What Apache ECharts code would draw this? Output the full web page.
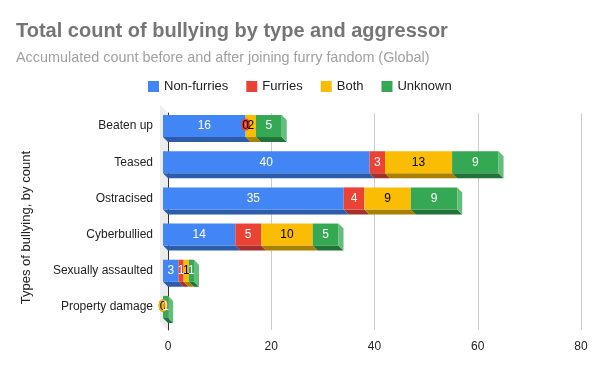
<!DOCTYPE html>
<html><head><meta charset="utf-8">
<script src="https://cdn.jsdelivr.net/npm/echarts@6/dist/echarts.min.js"></script>
<style>html,body{margin:0;padding:0;background:#fff}#c{width:600px;height:371px}</style>
</head><body><div id="c"></div>
<script>
const categories = ['Beaten up','Teased','Ostracised','Cyberbullied','Sexually assaulted','Property damage'];
const seriesNames = ['Non-furries','Furries','Both','Unknown'];
const nonFurries = [16,40,35,14,3,0];
const furries = [0,3,4,5,1,0];
const both = [2,13,9,10,1,0];
const unknown = [5,9,9,5,1,1];
const xTicks = [0,20,40,60,80];

const values = [nonFurries, furries, both, unknown];
const front = ['#4285F4','#EA4335','#FBBC04','#34A853'];
const bottomC = ['#2D5CAB','#A3302A','#A98000','#227339'];
const sideC = ['#7BA9F7','#F07A70','#FCD160','#63BE7C'];
const labelC = ['#fff','#fff','#000','#fff'];
const D = 5;
const FONT = '"Liberation Sans", Arial, sans-serif';

function geom(api){
  const ci = api.value(0), s = api.value(1), e = api.value(2);
  const p0 = api.coord([s, ci]), p1 = api.coord([e, ci]);
  const band = api.size([0,1])[1];
  const h = band*0.61;
  const x0 = p0[0]-D, x1 = p1[0]-D, yt = p0[1]-D-h/2, yb = yt+h;
  return {x0,x1,yt,yb};
}
function shapeRender(si){
  return function(params, api){
    const g = geom(api);
    const last = api.value(4);
    const ch = [];
    if (g.x1 > g.x0) {
      ch.push({type:'polygon', shape:{points:[[g.x0,g.yb],[g.x1,g.yb],[g.x1+D,g.yb+D],[g.x0+D,g.yb+D]]}, style:{fill:bottomC[si]}});
      ch.push({type:'rect', shape:{x:g.x0,y:g.yt,width:g.x1-g.x0,height:g.yb-g.yt}, style:{fill:front[si]}});
      if (last) ch.push({type:'polygon', shape:{points:[[g.x1,g.yt],[g.x1+D,g.yt+D],[g.x1+D,g.yb+D],[g.x1,g.yb]]}, style:{fill:sideC[si]}});
    }
    return {type:'group', children:ch};
  };
}
function labelRender(params, api){
  const g = geom(api);
  const v = api.value(3), si = api.value(5);
  const zero = v === 0;
  return {type:'text', style:{text:String(v), x:(g.x0+g.x1)/2, y:(g.yt+g.yb)/2, align:'center', verticalAlign:'middle',
    fill: zero ? '#000' : labelC[si], font:'12px '+FONT,
    stroke: zero ? front[si] : null, lineWidth: zero ? 3 : 0}};
}

const shapeSeries = seriesNames.map((name, si) => {
  const data = categories.map((c, ci) => {
    let s = 0; for (let k=0;k<si;k++) s += values[k][ci];
    let lastIdx = -1; for (let k=0;k<4;k++) if (values[k][ci] > 0) lastIdx = k;
    return [ci, s, s+values[si][ci], values[si][ci], lastIdx===si ? 1 : 0];
  });
  return {type:'custom', name, renderItem: shapeRender(si), itemStyle:{color:front[si]}, encode:{x:[1,2], y:0}, data, z:2};
});
const labelData = [];
categories.forEach((c, ci) => {
  let s = 0;
  for (let si=0; si<4; si++){ const v = values[si][ci]; labelData.push([ci, s, s+v, v, 0, si]); s += v; }
});

const chart = echarts.init(document.getElementById('c'));
chart.setOption({
  animation:false,
  title:{text:'Total count of bullying by type and aggressor', subtext:'Accumulated count before and after joining furry fandom (Global)',
    left:11, top:16, itemGap:10,
    textStyle:{fontFamily:FONT, fontSize:20, fontWeight:'bold', color:'#757575'},
    subtextStyle:{fontFamily:FONT, fontSize:14.4, color:'#a0a0a0'}},
  legend:{data:seriesNames, left:143, top:75, icon:'rect', itemWidth:11, itemHeight:11, itemGap:18,
    textStyle:{fontFamily:FONT, fontSize:13, color:'#222'}},
  grid:{left:168, right:19, top:113, bottom:41},
  xAxis:{type:'value', min:0, max:80, interval:20,
    axisLine:{show:false}, axisTick:{show:false},
    splitLine:{lineStyle:{color:'#cccccc'}},
    axisLabel:{fontFamily:FONT, fontSize:12, color:'#222', margin:11,
      formatter:(v)=> xTicks.includes(v) ? String(v) : ''}},
  yAxis:{type:'category', data:categories, inverse:true,
    axisLine:{show:true, lineStyle:{color:'#333', width:1}}, axisTick:{show:false},
    axisLabel:{fontFamily:FONT, fontSize:12, color:'#222', margin:15, verticalAlign:'bottom', lineHeight:10}},
  graphic: [{type:'text', left:20, top:151, rotation:Math.PI/2,
    style:{text:'Types of bullying, by count', font:'13px '+FONT, fill:'#222', x:0, y:0}}],
  series:[
    {type:'custom', name:'wall', silent:true, z:1, data:[[0]], encode:{x:0,y:0},
      renderItem:(params, api)=>{ const cs = params.coordSys; return {type:'polygon', shape:{points:[[cs.x-8,cs.y-8],[cs.x,cs.y],[cs.x,cs.y+cs.height],[cs.x-8,cs.y+cs.height-8]]}, style:{fill:'#ececec'}}; }},
    ...shapeSeries,
    {type:'custom', name:'labels', silent:true, z:5, renderItem:labelRender, encode:{x:[1,2], y:0}, data:labelData}
  ]
});
</script></body></html>
